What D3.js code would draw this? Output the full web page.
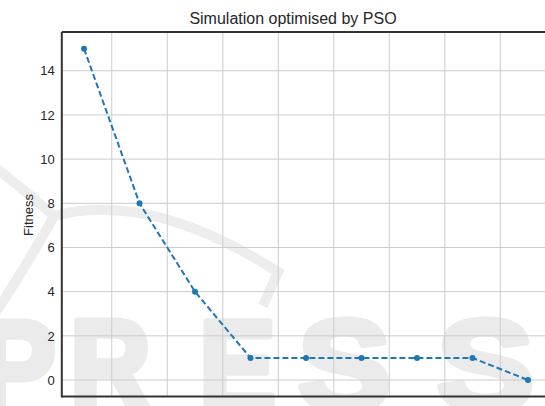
<!DOCTYPE html>
<html>
<head>
<meta charset="utf-8">
<script src="https://cdn.jsdelivr.net/npm/d3@7"></script>
<style>
  body { margin: 0; background: #fff; }
  svg { display: block; font-family: "Liberation Sans", Arial, sans-serif; }
</style>
</head>
<body>
<svg width="545" height="406"></svg>
<script>
// data
var iterations = [50, 150, 250, 350, 450, 550, 650, 750, 850];
var fitness = [15, 8, 4, 1, 1, 1, 1, 1, 0];
var xTicks = [100, 200, 300, 400, 500, 600, 700, 800];
var yTicks = [0, 2, 4, 6, 8, 10, 12, 14];

var svg = d3.select("svg");

// matplotlib style 5% margins
var x = d3.scaleLinear().domain([10, 890]).range([61.8, 550.2]);
var y = d3.scaleLinear().domain([-0.75, 15.75]).range([396.6, 32.1]);

// faint publisher watermark in the background
var wm = svg.append("g").attr("class", "watermark");
wm.append("path")
  .attr("d", "M-4,168 Q30,195 54,216 Q30,260 -4,312")
  .attr("fill", "none").attr("stroke", "#ededed").attr("stroke-width", 10);
wm.append("path")
  .attr("d", "M54,216 Q150,190 278,272 L263,306")
  .attr("fill", "none").attr("stroke", "#ededed").attr("stroke-width", 10);
// letter, left x, width
var letters = [["P", -22, 78], ["R", 70, 81], ["E", 199, 77], ["S", 298, 93], ["S", 437, 97]];
wm.selectAll("text.wm")
  .data(letters)
  .join("text")
  .attr("class", "wm")
  .attr("x", d => d[1])
  .attr("y", 410)
  .attr("textLength", d => d[2])
  .attr("lengthAdjust", "spacingAndGlyphs")
  .attr("font-size", 128)
  .attr("font-weight", "bold")
  .attr("fill", "#ebebeb")
  .attr("stroke", "#ebebeb")
  .attr("stroke-width", 7)
  .attr("stroke-linejoin", "round")
  .text(d => d[0]);

// grid
svg.append("g")
  .selectAll("line")
  .data(xTicks)
  .join("line")
  .attr("x1", d => x(d)).attr("x2", d => x(d))
  .attr("y1", y.range()[0]).attr("y2", y.range()[1])
  .attr("stroke", "#cccccc").attr("stroke-width", 1);
svg.append("g")
  .selectAll("line")
  .data(yTicks)
  .join("line")
  .attr("x1", x.range()[0]).attr("x2", x.range()[1])
  .attr("y1", d => y(d)).attr("y2", d => y(d))
  .attr("stroke", "#cccccc").attr("stroke-width", 1);

// axes (tick labels only, no tick marks)
var xAxis = svg.append("g")
  .attr("transform", "translate(0," + y.range()[0] + ")")
  .call(d3.axisBottom(x).tickValues(xTicks).tickSize(0).tickPadding(11));
var yAxis = svg.append("g")
  .attr("transform", "translate(" + x.range()[0] + ",0)")
  .call(d3.axisLeft(y).tickValues(yTicks).tickSize(0).tickPadding(7));
[xAxis, yAxis].forEach(function(a) {
  a.select(".domain").remove();
  a.selectAll("text")
    .attr("font-family", "Liberation Sans, Arial, sans-serif")
    .attr("font-size", 13)
    .attr("fill", "#262626");
});

// spines: left, bottom, top (right one falls outside the picture)
var sp = svg.append("g").attr("stroke", "#333").attr("stroke-width", 2).attr("fill", "none");
sp.append("line").attr("x1", x.range()[0]).attr("x2", x.range()[0]).attr("y1", y.range()[1]).attr("y2", y.range()[0] + 1);
sp.append("line").attr("x1", x.range()[0]).attr("x2", x.range()[1]).attr("y1", y.range()[0]).attr("y2", y.range()[0]);
sp.append("line").attr("x1", x.range()[0]).attr("x2", x.range()[1]).attr("y1", y.range()[1]).attr("y2", y.range()[1]);

// series
var pts = iterations.map(function(d, i) { return [d, fitness[i]]; });
svg.append("path")
  .datum(pts)
  .attr("fill", "none")
  .attr("stroke", "#1f77b4")
  .attr("stroke-width", 2)
  .attr("stroke-dasharray", "6,3")
  .attr("d", d3.line().x(d => x(d[0])).y(d => y(d[1])));
svg.append("g")
  .selectAll("circle")
  .data(pts)
  .join("circle")
  .attr("cx", d => x(d[0]))
  .attr("cy", d => y(d[1]))
  .attr("r", 3)
  .attr("fill", "#1f77b4");

// title and y label
svg.append("text")
  .attr("x", 293).attr("y", 24)
  .attr("text-anchor", "middle")
  .attr("font-size", 16)
  .attr("fill", "#262626")
  .text("Simulation optimised by PSO");
svg.append("text")
  .attr("transform", "translate(33,215) rotate(-90)")
  .attr("text-anchor", "middle")
  .attr("font-size", 13)
  .attr("fill", "#262626")
  .text("Fitness");
</script>
</body>
</html>
